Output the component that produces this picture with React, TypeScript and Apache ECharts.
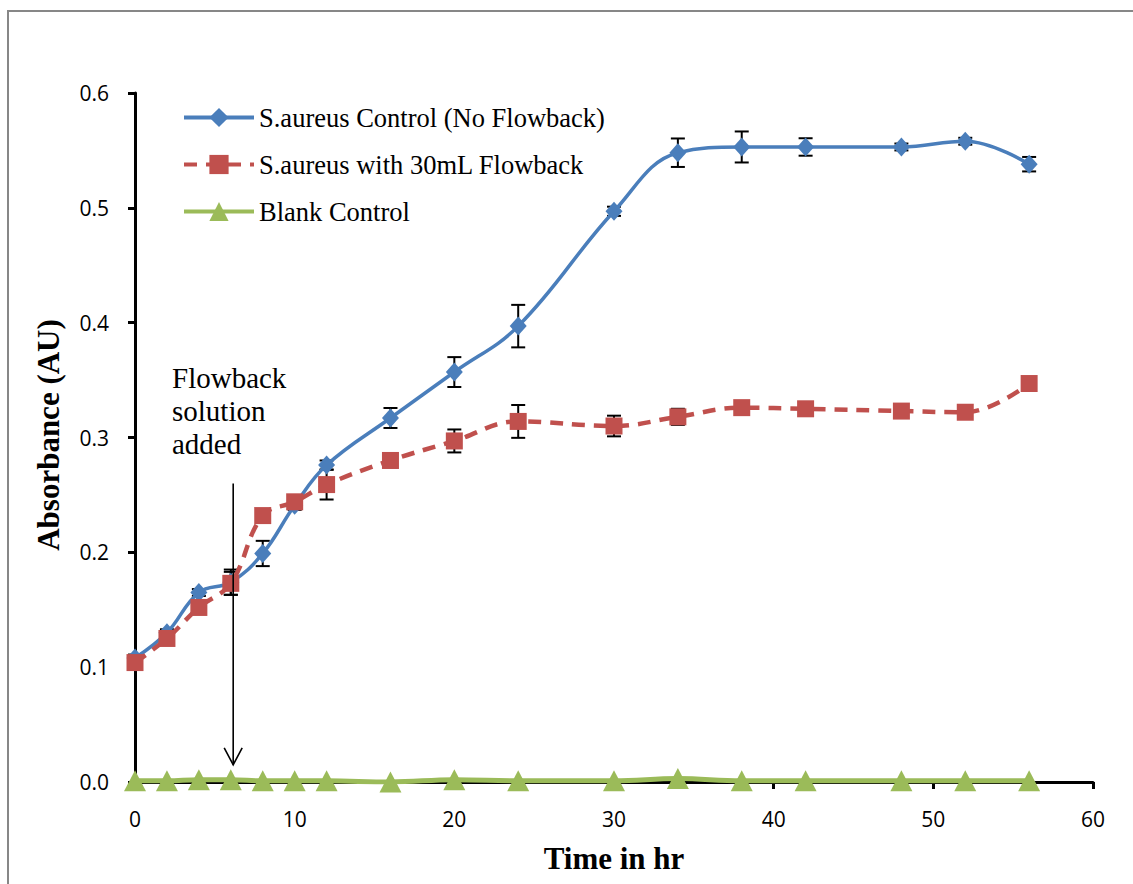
import React, { useEffect, useRef } from "react";
import * as echarts from "echarts";

const times = [0, 2, 4, 6, 8, 10, 12, 16, 20, 24, 30, 34, 38, 42, 48, 52, 56];
const controlValues = [0.108, 0.130, 0.165, 0.174, 0.199, 0.241, 0.276, 0.317, 0.357, 0.397, 0.497, 0.548, 0.553, 0.553, 0.553, 0.558, 0.538];
const controlErrors = [0.003, 0.003, 0.003, 0.011, 0.011, 0.004, 0.004, 0.0087, 0.013, 0.0185, 0.004, 0.0124, 0.0135, 0.0076, 0.003, 0.003, 0.0063];
const flowbackValues = [0.104, 0.125, 0.152, 0.173, 0.232, 0.244, 0.259, 0.280, 0.297, 0.314, 0.310, 0.318, 0.326, 0.325, 0.323, 0.322, 0.347];
const flowbackErrors = [0.003, 0.003, 0.003, 0.010, 0.003, 0.004, 0.013, 0.006, 0.010, 0.0143, 0.009, 0.007, 0.003, 0.003, 0.003, 0.003, 0.004];
const blankValues = [0.001, 0.001, 0.002, 0.002, 0.001, 0.001, 0.001, 0.0, 0.002, 0.001, 0.001, 0.003, 0.001, 0.001, 0.001, 0.001, 0.001];

const seriesNames = ["S.aureus Control (No Flowback)", "S.aureus with 30mL Flowback", "Blank Control"];
const xTicks = { min: 0, max: 60, interval: 10 };
const yTicks = { min: 0, max: 0.6, interval: 0.1 };

const annotationText = "Flowback\nsolution\nadded";
const arrowX = 6.15;
const arrowTop = 0.26;
const arrowTip = 0.015;

const BLUE = "#4A7EBB";
const RED = "#C0504D";
const GREEN = "#9BBB59";
const SERIF = "'Liberation Serif', 'Times New Roman', serif";
const SANS = "'Open Sans', 'Noto Sans', sans-serif";

function errorSeries(values: number[], errors: number[], z: number) {
  return {
    type: "custom",
    z,
    silent: true,
    data: times.map((t, i) => [t, values[i], errors[i]]),
    renderItem: (_p: any, api: any) => {
      const x = api.value(0);
      const y = api.value(1);
      const e = api.value(2);
      const hi = api.coord([x, y + e]);
      const lo = api.coord([x, y - e]);
      const cap = 7;
      const st = { stroke: "#000", lineWidth: 2 };
      return {
        type: "group",
        children: [
          { type: "line", shape: { x1: hi[0], y1: hi[1], x2: lo[0], y2: lo[1] }, style: st },
          { type: "line", shape: { x1: hi[0] - cap, y1: hi[1], x2: hi[0] + cap, y2: hi[1] }, style: st },
          { type: "line", shape: { x1: lo[0] - cap, y1: lo[1], x2: lo[0] + cap, y2: lo[1] }, style: st },
        ],
      };
    },
  };
}

export default function App() {
  const ref = useRef<HTMLDivElement>(null);
  useEffect(() => {
    if (!ref.current) return;
    const chart = echarts.init(ref.current, undefined, { renderer: "svg" });
    const option: any = {
      animation: false,
      backgroundColor: "#fff",
      grid: { left: 135, right: 40, top: 93, bottom: 102, containLabel: false },
      legend: {
        data: seriesNames,
        orient: "vertical",
        left: 182,
        top: 104,
        padding: 0,
        itemWidth: 70,
        itemHeight: 24,
        itemGap: 20,
        lineStyle: { width: 4 },
        textStyle: { fontFamily: SERIF, fontSize: 26.5, color: "#000", lineHeight: 27 },
      },
      xAxis: {
        type: "value",
        min: xTicks.min,
        max: xTicks.max,
        interval: xTicks.interval,
        splitLine: { show: false },
        axisLine: { lineStyle: { color: "#000", width: 3 } },
        axisTick: { show: true, inside: false, length: 7, lineStyle: { color: "#000", width: 3 } },
        axisLabel: { margin: 26, fontFamily: SANS, fontSize: 21, color: "#000" },
      },
      yAxis: {
        type: "value",
        min: yTicks.min,
        max: yTicks.max,
        interval: yTicks.interval,
        splitLine: { show: false },
        axisLine: { show: true, lineStyle: { color: "#000", width: 3 } },
        axisTick: { show: true, inside: false, length: 7, lineStyle: { color: "#000", width: 3 } },
        axisLabel: {
          margin: 26,
          fontFamily: SANS,
          fontSize: 21,
          color: "#000",
          formatter: (v: number) => v.toFixed(1),
        },
      },
      series: [
        errorSeries(controlValues, controlErrors, 1),
        errorSeries(flowbackValues, flowbackErrors, 1),
        {
          name: seriesNames[0],
          type: "line",
          z: 3,
          smooth: 0.4,
          data: times.map((t, i) => [t, controlValues[i]]),
          symbol: "diamond",
          symbolSize: [17, 19],
          itemStyle: { color: BLUE },
          lineStyle: { color: BLUE, width: 3.5 },
        },
        {
          name: seriesNames[1],
          type: "line",
          z: 4,
          smooth: 0.4,
          data: times.map((t, i) => [t, flowbackValues[i]]),
          symbol: "rect",
          symbolSize: 17,
          itemStyle: { color: RED },
          lineStyle: { color: RED, width: 4.5, type: [13, 9] },
        },
        {
          name: seriesNames[2],
          type: "line",
          z: 5,
          smooth: 0.4,
          data: times.map((t, i) => [t, blankValues[i]]),
          symbol: "triangle",
          symbolSize: [22, 21],
          itemStyle: { color: GREEN },
          lineStyle: { color: GREEN, width: 5 },
        },
      ],
    };
    chart.setOption(option);

    const top = chart.convertToPixel({ gridIndex: 0 }, [arrowX, arrowTop]) as number[];
    const tip = chart.convertToPixel({ gridIndex: 0 }, [arrowX, arrowTip]) as number[];
    const arrowStyle = { stroke: "#000", lineWidth: 1.6 };
    chart.setOption({
      graphic: [
        {
          type: "rect",
          shape: { x: 8, y: 11, width: 1135, height: 885 },
          style: { fill: "none", stroke: "#878787", lineWidth: 2 },
          silent: true,
        },
        {
          type: "text",
          x: 614,
          y: 858,
          style: {
            text: "Time in hr",
            font: `bold 31px ${SERIF}`,
            fill: "#000",
            textAlign: "center",
            textVerticalAlign: "middle",
          },
        },
        {
          type: "text",
          x: 48,
          y: 435,
          rotation: Math.PI / 2,
          style: {
            text: "Absorbance (AU)",
            font: `bold 31px ${SERIF}`,
            fill: "#000",
            textAlign: "center",
            textVerticalAlign: "middle",
          },
        },
        {
          type: "text",
          x: 172,
          y: 361,
          style: {
            text: annotationText,
            font: `29px ${SERIF}`,
            lineHeight: 33,
            fill: "#000",
            textAlign: "left",
            textVerticalAlign: "top",
          },
        },
        {
          type: "line",
          shape: { x1: top[0], y1: top[1], x2: tip[0], y2: tip[1] },
          style: arrowStyle,
          z: 10,
        },
        {
          type: "polyline",
          shape: { points: [[tip[0] - 9, tip[1] - 17], [tip[0], tip[1]], [tip[0] + 9, tip[1] - 17]] },
          style: { ...arrowStyle, fill: "none" },
          z: 10,
        },
      ],
    });
    return () => chart.dispose();
  }, []);
  return <div ref={ref} style={{ position: "fixed", left: 0, top: 0, width: 1133, height: 884 }} />;
}
